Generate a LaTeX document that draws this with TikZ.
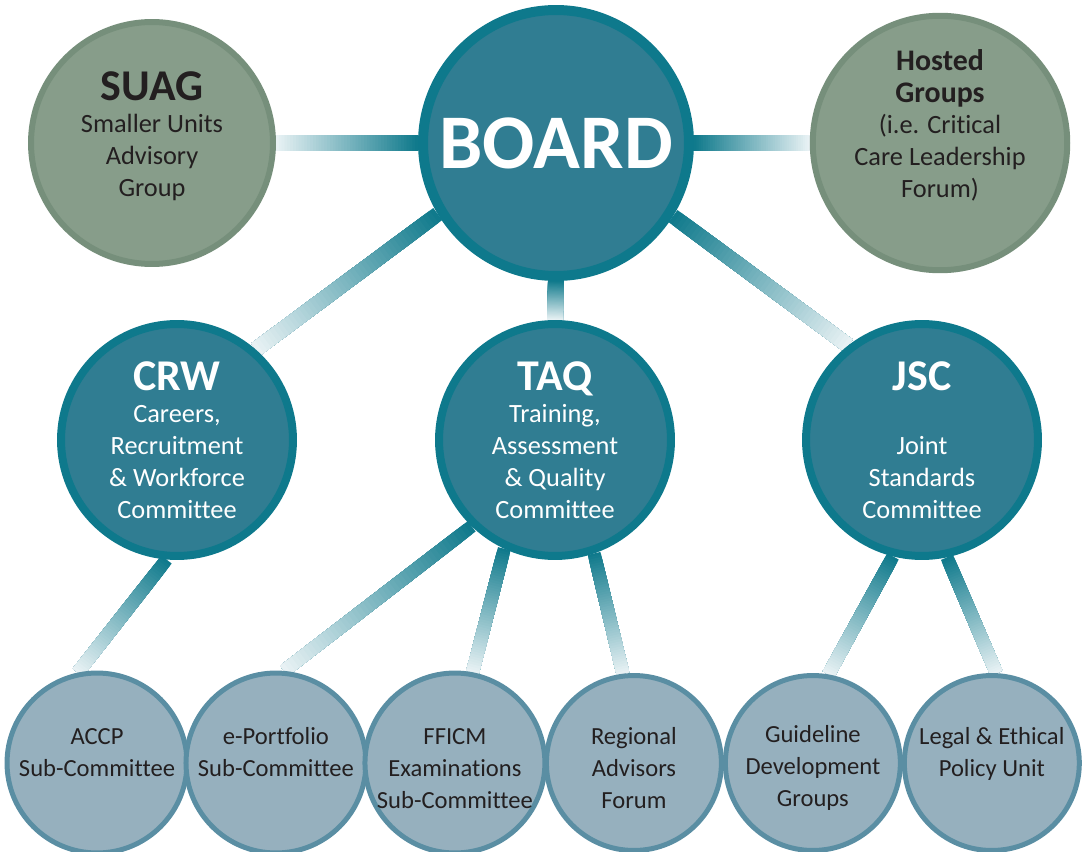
\documentclass[tikz,border=0pt]{standalone}
\usepackage{fontspec}
\setmainfont{Carlito}[Ligatures=NoCommon]
\usetikzlibrary{calc,positioning,backgrounds}

\definecolor{boardFill}{RGB}{48,125,146}
\definecolor{boardRing}{RGB}{14,121,140}
\definecolor{greenFill}{RGB}{135,157,138}
\definecolor{greenRing}{RGB}{118,143,123}
\definecolor{subFill}{RGB}{150,176,190}
\definecolor{subRing}{RGB}{90,142,163}
\definecolor{textDark}{RGB}{35,31,32}
\definecolor{linkDark}{RGB}{16,122,140}
\definecolor{linkLight}{RGB}{236,244,246}

\newcommand{\heading}[1]{{\fontsize{25}{26}\selectfont\bfseries #1}}
\newcommand{\subhead}[1]{{\fontsize{17}{18}\selectfont\bfseries #1}}

\begin{document}
\begin{tikzpicture}[x=0.02cm,y=-0.02cm,node distance=3.58cm]
      \tikzstyle{board}=[circle,draw=boardRing,fill=boardFill,line width=0.2cm,minimum size=5.32cm,inner sep=0pt,text=white,font=\bfseries\fontsize{44}{50}\selectfont]
      \tikzstyle{advisory}=[circle,draw=greenRing,fill=greenFill,line width=0.12cm,minimum size=4.84cm,inner sep=0pt,text=textDark,align=center,font=\fontsize{15}{18.2}\selectfont,text depth=10pt]
      \tikzstyle{committee}=[circle,draw=boardRing,fill=boardFill,line width=0.16cm,minimum size=4.64cm,inner sep=0pt,text=white,align=center,font=\fontsize{15}{18.2}\selectfont]
      \tikzstyle{subgroup}=[circle,draw=subRing,fill=subFill,line width=0.1cm,minimum size=3.5cm,inner sep=0pt,text=textDark,align=center,font=\fontsize{14}{18.2}\selectfont,text height=51.5pt]

      \useasboundingbox (0,0) rectangle (1084,851);

      % top row
      \node[board]     (board)  at (556,143) {BOARD};
      \node[advisory]  (suag)   at (152,143) {\heading{SUAG}\\Smaller Units\\Advisory\\Group};
      \node[advisory,text depth=4pt] (hosted) at (940,143) {\subhead{Hosted}\\\subhead{Groups}\\(i.e. Critical\\Care Leadership\\Forum)\\\mbox{}};

      % committees
      \node[committee] (crw) at (177,440) {\heading{CRW}\\Careers,\\Recruitment\\\& Workforce\\Committee};
      \node[committee] (taq) at (555,440) {\heading{TAQ}\\Training,\\Assessment\\\& Quality\\Committee};
      \node[committee] (jsc) at (922,440) {\heading{JSC}\\\mbox{}\\Joint\\Standards\\Committee};

      % sub groups
      \node[subgroup] (accp)                      at (97,763) {ACCP\\Sub-Committee\\\mbox{}};
      \node[subgroup] (eport)     [right of=accp]      {e-Portfolio\\Sub-Committee\\\mbox{}};
      \node[subgroup] (fficm)     [right of=eport]     {FFICM\\Examinations\\Sub-Committee};
      \node[subgroup] (regional)  [right of=fficm]     {Regional\\Advisors\\Forum};
      \node[subgroup] (guideline) [right of=regional]  {Guideline\\Development\\Groups};
      \node[subgroup] (legal)     [right of=guideline] {Legal \& Ethical\\Policy Unit\\\mbox{}};

      % fading links, dark at the upper end
      \begin{pgfonlayer}{background}
        \foreach \src/\dst/\lw in {board.180/suag.0/0.32, board.0/hosted.180/0.32,
            board.211/crw.49/0.3, board.270/taq.90/0.32, board.328/jsc.128/0.3,
            crw.265/accp.102/0.26, taq.226/eport.85/0.26, taq.245/fficm.79/0.26,
            taq.289/regional.97/0.26, jsc.256/guideline.80/0.26, jsc.282/legal.87/0.26}
          \foreach \i in {0,...,49}{
            \pgfmathtruncatemacro{\pct}{100-2*\i}
            \draw[line width=\lw cm,linkDark!\pct!linkLight]
              ($(\src)!\i/50!(\dst)$) -- (\dst);
          }
      \end{pgfonlayer}
\end{tikzpicture}
\end{document}
